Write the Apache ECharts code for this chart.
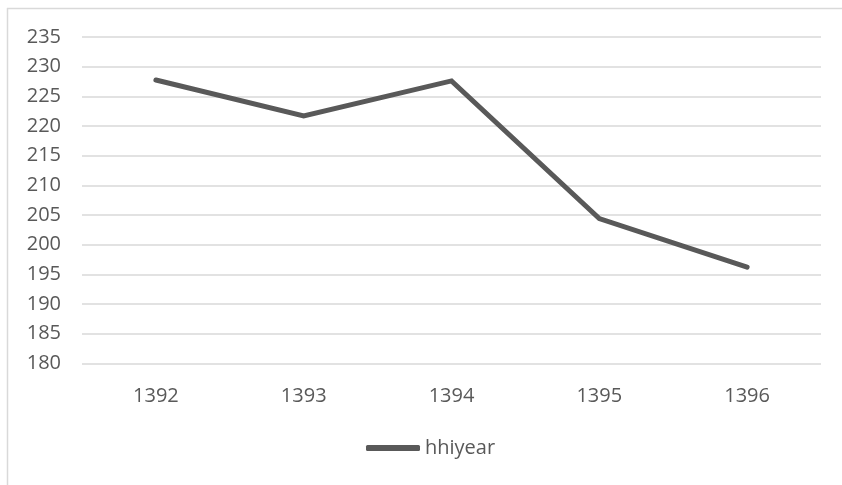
<!DOCTYPE html>
<html>
<head>
<meta charset="utf-8">
<script src="https://cdn.jsdelivr.net/npm/echarts@6/dist/echarts.min.js"></script>
<style>
html,body{margin:0;padding:0;background:#fff;}
#chart{width:842px;height:485px;}
</style>
</head>
<body>
<div id="chart"></div>
<script>
var categories = ['1392', '1393', '1394', '1395', '1396'];
var hhiyear = [227.75, 221.7, 227.6, 204.4, 196.2];
var seriesName = 'hhiyear';
var yMin = 180, yMax = 235, yStep = 5;

var chart = echarts.init(document.getElementById('chart'), null, {renderer: 'canvas'});
var font = '"Open Sans", sans-serif';
chart.setOption({
  animation: false,
  backgroundColor: '#ffffff',
  graphic: [
    {type: 'line', shape: {x1: 7.5, y1: 8, x2: 7.5, y2: 485}, style: {stroke: '#d9d9d9', lineWidth: 1.5}},
    {type: 'line', shape: {x1: 7, y1: 8.5, x2: 842, y2: 8.5}, style: {stroke: '#d9d9d9', lineWidth: 1.5}}
  ],
  grid: {left: 82, right: 21, top: 37, bottom: 121.7, containLabel: false},
  legend: {
    show: true,
    data: [{name: seriesName, icon: 'roundRect'}],
    orient: 'horizontal',
    left: 366,
    top: 438,
    width: 300,
    padding: 0,
    itemWidth: 54,
    itemHeight: 6,
    itemGap: 0,
    textStyle: {color: '#595959', fontSize: 20, fontFamily: font},
    itemStyle: {color: '#595959', borderWidth: 0}
  },
  xAxis: {
    type: 'category',
    data: categories,
    boundaryGap: true,
    axisLine: {show: false},
    axisTick: {show: false},
    axisLabel: {color: '#595959', fontSize: 20, fontFamily: font, margin: 23}
  },
  yAxis: {
    type: 'value',
    min: yMin,
    max: yMax,
    interval: yStep,
    axisLine: {show: false},
    axisTick: {show: false},
    axisLabel: {color: '#595959', fontSize: 20, fontFamily: font, margin: 21},
    splitLine: {lineStyle: {color: '#d9d9d9', width: 1.5}}
  },
  series: [{
    name: seriesName,
    type: 'line',
    data: hhiyear,
    symbol: 'none',
    lineStyle: {color: '#595959', width: 5, cap: 'round', join: 'miter'},
    itemStyle: {color: '#595959'}
  }]
});
</script>
</body>
</html>
